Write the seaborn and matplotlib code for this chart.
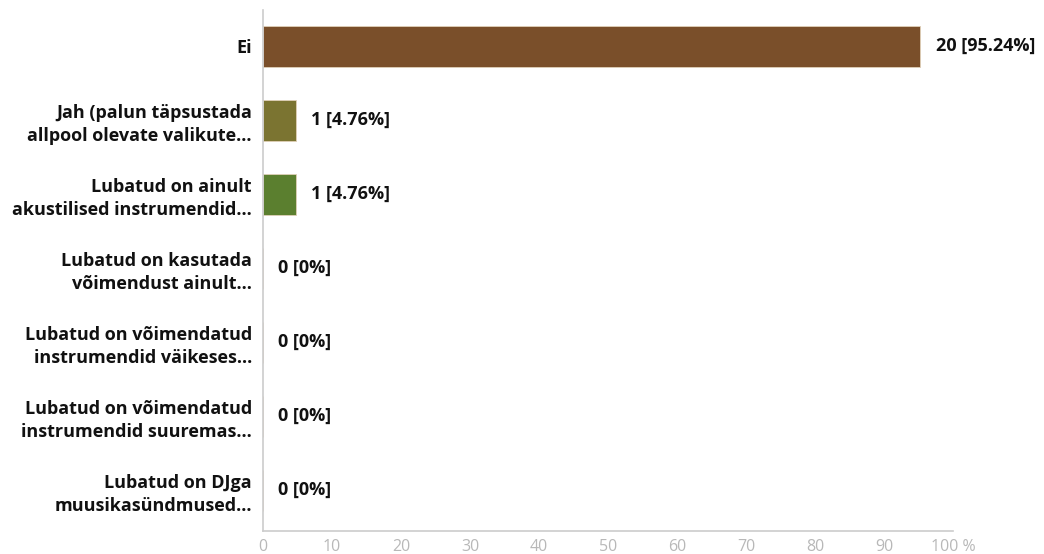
import matplotlib
matplotlib.use("Agg")
import matplotlib.pyplot as plt
import seaborn as sns
import pandas as pd

categories = [
    "Ei",
    "Jah (palun täpsustada\nallpool olevate valikute...",
    "Lubatud on ainult\nakustilised instrumendid...",
    "Lubatud on kasutada\nvõimendust ainult...",
    "Lubatud on võimendatud\ninstrumendid väikeses...",
    "Lubatud on võimendatud\ninstrumendid suuremas...",
    "Lubatud on DJga\nmuusikasündmused...",
]
counts = [20, 1, 1, 0, 0, 0, 0]
percents = [95.24, 4.76, 4.76, 0, 0, 0, 0]
colors = ["#7a4f2a", "#7b7431", "#5b7f2f", "#888888", "#888888", "#888888", "#888888"]
xticks = [0, 10, 20, 30, 40, 50, 60, 70, 80, 90, 100]
xticklabels = ["0", "10", "20", "30", "40", "50", "60", "70", "80", "90", "100 %"]

df = pd.DataFrame({"cat": categories, "pct": percents})

sns.set_style("white")
plt.rcParams["font.family"] = ["Open Sans", "DejaVu Sans"]

fig = plt.figure(figsize=(10.44, 5.54), dpi=100)
ax = fig.add_axes([0.252, 0.0415, 0.661, 0.9405])

sns.barplot(data=df, y="cat", x="pct", hue="cat", palette=colors, legend=False,
            orient="h", width=0.55, ax=ax, saturation=1,
            edgecolor="#e0d0b8", linewidth=0.6)

for i, cont in enumerate(ax.containers):
    lab = f"{counts[i]} [{percents[i]:g}%]"
    ax.bar_label(cont, labels=[lab], padding=11, fontsize=13, fontweight="bold",
                 color="#111111")

ax.set_xlim(0, 100)
ax.set_ylim(6.55, -0.49)
ax.set_xticks(xticks)
ax.set_xticklabels(xticklabels, color="#b8b8b8", fontsize=11.5)
ax.tick_params(axis="x", length=0, pad=6)
ax.tick_params(axis="y", length=0, pad=8)
for lbl in ax.get_yticklabels():
    lbl.set_fontweight("bold")
    lbl.set_fontsize(13)
    lbl.set_color("#111111")
    lbl.set_horizontalalignment("right")
    lbl.set_multialignment("right")
    lbl.set_linespacing(1.35)
ax.set_xlabel("")
ax.set_ylabel("")
for s in ["top", "right"]:
    ax.spines[s].set_visible(False)
for s in ["left", "bottom"]:
    ax.spines[s].set_color("#cccccc")
    ax.spines[s].set_linewidth(1.2)

fig.savefig("out.png", dpi=100)
